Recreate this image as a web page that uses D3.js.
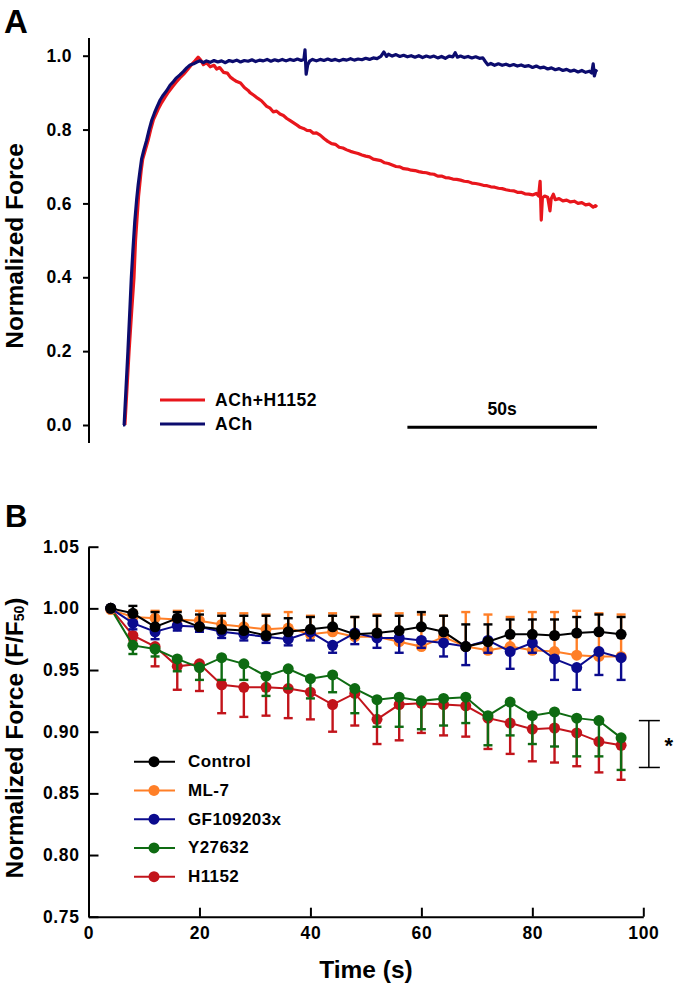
<!DOCTYPE html>
<html>
<head>
<meta charset="utf-8">
<script src="https://cdn.jsdelivr.net/npm/d3@7"></script>
<style>
  html, body { margin: 0; padding: 0; background: #fff; }
  svg { display: block; }
  text { font-family: "Liberation Sans", Arial, Helvetica, sans-serif; font-weight: bold; fill: #000; }
</style>
</head>
<body>
<svg id="chart" width="676" height="983"></svg>
<script>
// ---------------- DATA: panel A (force traces, time in s, normalized force) ----------------
const traceACh = [
  [0,0],[0.3,0.0],[0.8,0.1],[1.3,0.2],[1.8,0.31],[2.2,0.4],[2.6,0.47],[3.1,0.55],[3.6,0.61],[4.0,0.65],
  [4.5,0.69],[4.9,0.72],[5.5,0.745],[6.2,0.77],[6.9,0.80],[7.6,0.826],[8.3,0.845],[9.0,0.862],[9.8,0.88],
  [10.6,0.893],[11.5,0.905],[12.4,0.92],[13.3,0.93],[14.1,0.94],[15.0,0.948],[15.9,0.957],[16.8,0.967],
  [17.7,0.975],[18.6,0.978],[19.5,0.983],[20.3,0.986],[21.2,0.981],[22,0.986],[23,0.982],[24,0.987],
  [25,0.983],[26,0.986],[27,0.981],[28,0.987],[29,0.984],[30,0.988],[31,0.983],[32,0.987],[33,0.985],
  [34,0.989],[35,0.984],[36,0.988],[37,0.986],[38,0.99],[39,0.985],[40,0.989],[41,0.986],[42,0.99],
  [43,0.986],[44,0.99],[45,0.987],[46,0.991],[47,0.987],[47.7,0.99],[48,1.016],[48.3,0.95],[48.7,0.975],
  [49.2,0.985],[50,0.99],[51,0.986],[52,0.99],[53,0.987],[54,0.991],[55,0.987],[56,0.99],[57,0.986],
  [58,0.99],[59,0.988],[60,0.992],[61,0.988],[62,0.991],[63,0.989],[64,0.993],[65,0.99],[66,0.994],
  [67,0.992],[68,0.998],[68.8,1.01],[69.5,0.998],[70,1.004],[71,0.999],[72,1.003],[73,0.998],[74,1.001],
  [75,0.997],[76,1.0],[77,0.996],[78,1.0],[79,0.995],[80,0.999],[81,0.996],[82,0.999],[83,0.994],
  [84,0.998],[85,0.993],[86,0.999],[87,0.997],[87.6,1.008],[88.2,0.996],[89,0.999],[90,0.995],[91,0.998],
  [92,0.994],[93,0.997],[94,0.993],[94.9,0.994],[95.5,0.985],[96.2,0.975],[97,0.979],[98,0.974],[99,0.978],
  [100,0.974],[101,0.977],[102,0.973],[103,0.976],[104,0.972],[105,0.975],[106,0.971],[107,0.973],
  [108,0.968],[109,0.972],[110,0.967],[111,0.969],[112,0.964],[113,0.967],[114,0.962],[115,0.965],
  [116,0.96],[117,0.963],[118,0.958],[119,0.961],[120,0.956],[121,0.96],[122,0.955],[123,0.958],
  [123.6,0.953],[124,0.978],[124.3,0.945],[124.7,0.96],[125,0.956]
];
const traceAChH1152 = [
  [0.5,0],[1.0,0.09],[1.6,0.2],[2.3,0.31],[2.9,0.4],[3.3,0.5],[3.7,0.56],[4.1,0.62],[4.8,0.69],[5.2,0.72],
  [5.9,0.745],[6.6,0.77],[7.3,0.80],[8.0,0.826],[8.7,0.842],[9.4,0.858],[10.2,0.873],[11.1,0.888],[12,0.902],
  [13,0.915],[14,0.928],[15,0.94],[16,0.95],[17,0.962],[18,0.975],[19,0.986],[19.8,0.996],[20.5,0.988],
  [21.2,0.976],[22,0.981],[23,0.97],[24,0.974],[24.7,0.964],[25.5,0.968],[26.5,0.955],[27.5,0.953],
  [28.3,0.942],[29.1,0.936],[30,0.93],[31,0.926],[32,0.914],[33,0.906],[33.5,0.9],[34.5,0.893],[35.5,0.885],
  [36.5,0.878],[37.9,0.863],[38.8,0.858],[39.6,0.848],[40.5,0.85],[41.4,0.842],[42.3,0.838],[43.2,0.83],
  [44.1,0.824],[45,0.818],[45.9,0.812],[46.7,0.806],[47.6,0.803],[48.5,0.798],[49.4,0.797],[50.2,0.79],
  [51,0.791],[52,0.785],[53,0.776],[54,0.768],[55,0.762],[56,0.76],[57,0.752],[58,0.75],[59,0.745],
  [60,0.741],[61,0.738],[62,0.735],[63,0.731],[64,0.728],[65,0.726],[66,0.72],[67,0.718],[68,0.716],
  [69,0.71],[70,0.708],[71,0.704],[72,0.7],[73,0.699],[74,0.694],[75,0.693],[76,0.69],[77,0.689],[78,0.686],
  [79,0.684],[80,0.683],[81,0.68],[82,0.679],[83,0.674],[84,0.674],[85,0.67],[86,0.669],[87,0.666],
  [88,0.665],[89,0.663],[90,0.66],[91,0.659],[92,0.655],[93,0.654],[94,0.652],[95,0.649],[96,0.648],
  [97,0.645],[98,0.644],[99,0.641],[100,0.64],[101,0.637],[102,0.635],[103,0.634],[104,0.63],[105,0.63],
  [106,0.626],[107,0.625],[108,0.623],[109,0.627],[109.6,0.62],[110,0.66],[110.3,0.555],[110.6,0.615],
  [111.2,0.62],[112,0.617],[112.6,0.58],[112.9,0.612],[113.5,0.625],[114,0.61],[115,0.613],[116,0.607],
  [117,0.609],[118,0.604],[119,0.606],[120,0.6],[121,0.602],[122,0.596],[123,0.598],[124,0.59],
  [124.6,0.594],[125,0.59]
];
const yTicksA = [0, 0.2, 0.4, 0.6, 0.8, 1.0];
const legendA = ["ACh+H1152", "ACh"];
const scaleBarA = [75, 125];      // seconds
const scaleBarLabel = "50s";

// ---------------- DATA: panel B (mean ± error at each time point) ----------------
const timesB = [4,8,12,16,20,24,28,32,36,40,44,48,52,56,60,64,68,72,76,80,84,88,92,96];
const seriesNames = ["Control", "ML-7", "GF109203x", "Y27632", "H1152"];
const controlMean = [1.000,0.996,0.985,0.992,0.985,0.983,0.982,0.978,0.981,0.983,0.985,0.979,0.980,0.982,0.985,0.981,0.969,0.973,0.979,0.979,0.978,0.980,0.981,0.979];
const controlErr  = [0.000,0.006,0.012,0.005,0.010,0.011,0.012,0.016,0.011,0.010,0.009,0.014,0.014,0.012,0.012,0.013,0.018,0.014,0.012,0.012,0.013,0.013,0.014,0.014];
const ml7Mean     = [0.999,0.993,0.992,0.991,0.990,0.987,0.985,0.983,0.984,0.979,0.981,0.977,0.977,0.973,0.969,0.977,0.969,0.966,0.969,0.966,0.965,0.962,0.961,0.961];
const ml7Err      = [0.000,0.005,0.006,0.007,0.008,0.009,0.011,0.012,0.013,0.015,0.015,0.016,0.018,0.023,0.026,0.017,0.028,0.029,0.024,0.031,0.032,0.036,0.035,0.034];
const gfMean      = [1.000,0.988,0.981,0.986,0.985,0.981,0.979,0.977,0.975,0.981,0.970,0.980,0.976,0.976,0.974,0.972,0.969,0.974,0.965,0.972,0.959,0.952,0.965,0.960];
const gfErr       = [0.000,0.005,0.006,0.004,0.004,0.005,0.005,0.005,0.005,0.007,0.006,0.009,0.008,0.012,0.006,0.011,0.015,0.010,0.014,0.008,0.017,0.018,0.019,0.018];
const yMean       = [1.000,0.970,0.967,0.959,0.952,0.960,0.955,0.945,0.951,0.943,0.946,0.935,0.926,0.928,0.925,0.927,0.928,0.913,0.924,0.913,0.916,0.911,0.909,0.895];
const yErr        = [0.000,0.007,0.006,0.010,0.010,0.018,0.013,0.016,0.016,0.016,0.014,0.020,0.022,0.024,0.023,0.022,0.021,0.024,0.027,0.023,0.028,0.031,0.029,0.026];
const hMean       = [1.000,0.978,0.969,0.953,0.955,0.938,0.936,0.936,0.935,0.932,0.922,0.931,0.910,0.922,0.923,0.922,0.921,0.911,0.907,0.902,0.903,0.899,0.892,0.889];
const hErr        = [0.000,0.004,0.016,0.019,0.022,0.023,0.024,0.023,0.024,0.022,0.022,0.026,0.020,0.029,0.024,0.025,0.025,0.025,0.025,0.026,0.028,0.027,0.025,0.028];
const errDirection = [1, 1, -1, -1, -1];   // +1 = bar drawn upward, -1 = downward
const xTicksB = [0, 20, 40, 60, 80, 100];
const yTicksB = [0.75, 0.80, 0.85, 0.90, 0.95, 1.00, 1.05];
const sigBracket = { t: 101, lo: 0.871, hi: 0.909, label: "*" };

// ---------------- STYLE ----------------
const colorsA = ["#e8161c", "#0c0c6e"];
const colorsB = ["#000000", "#ff7f27", "#0b0b8e", "#0e6b12", "#c2141b"];

const svg = d3.select("#chart");

// =============== PANEL A ===============
const xA = d3.scaleLinear().domain([0, 125]).range([123, 597]);
const yA = d3.scaleLinear().domain([0, 1]).range([425, 55.7]);
const gA = svg.append("g");

gA.append("text").attr("x", 4).attr("y", 33).style("font-size", "33px").text("A");

// axis
const axA = d3.axisLeft(yA).tickValues(yTicksA).tickFormat(d3.format(".1f"))
  .tickSizeInner(6).tickSizeOuter(0).tickPadding(11);
const gAxA = gA.append("g").attr("transform", "translate(89,0)").call(axA);
gAxA.select(".domain").remove();
gAxA.append("line").attr("x1", 0).attr("x2", 0)
  .attr("y1", yA(1.048)).attr("y2", yA(-0.049))
  .attr("stroke", "#000").attr("stroke-width", 2);
gAxA.selectAll(".tick line").attr("stroke-width", 2);
gAxA.selectAll(".tick text").style("font-size", "17.5px").style("letter-spacing", "0.4px").attr("fill", "#000");

gA.append("text")
  .attr("transform", "translate(14,246) rotate(-90)")
  .attr("text-anchor", "middle").attr("dominant-baseline", "central")
  .style("font-size", "24.5px").text("Normalized Force");

const lineA = d3.line().x(d => xA(d[0])).y(d => yA(d[1]));
gA.append("path").datum(traceAChH1152).attr("d", lineA)
  .attr("fill", "none").attr("stroke", colorsA[0]).attr("stroke-width", 3.2)
  .attr("stroke-linejoin", "round");
gA.append("path").datum(traceACh).attr("d", lineA)
  .attr("fill", "none").attr("stroke", colorsA[1]).attr("stroke-width", 3.2)
  .attr("stroke-linejoin", "round");

// legend A
legendA.forEach((name, i) => {
  const y = 400 + i * 24;
  gA.append("line").attr("x1", 160).attr("x2", 205).attr("y1", y).attr("y2", y)
    .attr("stroke", colorsA[i]).attr("stroke-width", 3);
  gA.append("text").attr("x", 215).attr("y", y).attr("dominant-baseline", "central")
    .style("font-size", "17.5px").style("letter-spacing", "0.6px").text(name);
});

// scale bar
gA.append("line").attr("x1", xA(scaleBarA[0])).attr("x2", xA(scaleBarA[1]))
  .attr("y1", yA(-0.006)).attr("y2", yA(-0.006))
  .attr("stroke", "#000").attr("stroke-width", 3);
gA.append("text").attr("x", (xA(scaleBarA[0]) + xA(scaleBarA[1])) / 2).attr("y", 409)
  .attr("text-anchor", "middle").attr("dominant-baseline", "central")
  .style("font-size", "17.5px").text(scaleBarLabel);

// =============== PANEL B ===============
const xB = d3.scaleLinear().domain([0, 100]).range([88.5, 643.3]);
const yB = d3.scaleLinear().domain([0.75, 1.05]).range([916.7, 546.7]);
const gB = svg.append("g");

gB.append("text").attr("x", 5).attr("y", 527).style("font-size", "31px").text("B");

const axYB = d3.axisLeft(yB).tickValues(yTicksB).tickFormat(d3.format(".2f"))
  .tickSizeInner(-10).tickSizeOuter(0).tickPadding(9);
const gYB = gB.append("g").attr("transform", `translate(${xB(0)},0)`).call(axYB);
const axXB = d3.axisBottom(xB).tickValues(xTicksB).tickFormat(d3.format("d"))
  .tickSizeInner(-9).tickSizeOuter(0).tickPadding(10);
const gXB = gB.append("g").attr("transform", `translate(0,${yB(0.75)})`).call(axXB);
[gYB, gXB].forEach(g => {
  g.select(".domain").attr("stroke-width", 2);
  g.selectAll(".tick line").attr("stroke-width", 2);
  g.selectAll(".tick text").style("font-size", "17.5px").style("letter-spacing", "0.6px").attr("fill", "#000");
});

// axis titles
const yTitleB = gB.append("text")
  .attr("transform", "translate(14,738) rotate(-90)")
  .attr("text-anchor", "middle").attr("dominant-baseline", "central")
  .style("font-size", "24.5px");
yTitleB.append("tspan").text("Normalized Force (F/F");
yTitleB.append("tspan").attr("baseline-shift", "-35%").style("font-size", "14px").text("50");
yTitleB.append("tspan").text(")");

gB.append("text").attr("x", 366).attr("y", 978).attr("text-anchor", "middle")
  .style("font-size", "24.5px").text("Time (s)");

// series
const means = [controlMean, ml7Mean, gfMean, yMean, hMean];
const errs = [controlErr, ml7Err, gfErr, yErr, hErr];
const series = seriesNames.map((name, i) => ({
  name, color: colorsB[i], dir: errDirection[i],
  values: timesB.map((t, j) => ({ t, m: means[i][j], e: errs[i][j] }))
}));
const drawOrder = [4, 3, 1, 2, 0];
const lineB = d3.line().x(d => xB(d.t)).y(d => yB(d.m));
const capHalf = 4.5;

drawOrder.forEach(i => {
  const s = series[i];
  const g = gB.append("g");
  // error bars
  s.values.filter(d => d.e > 0).forEach(d => {
    const x = xB(d.t), y0 = yB(d.m), y1 = yB(d.m + s.dir * d.e);
    g.append("line").attr("x1", x).attr("x2", x).attr("y1", y0).attr("y2", y1)
      .attr("stroke", s.color).attr("stroke-width", 2.4);
    g.append("line").attr("x1", x - capHalf).attr("x2", x + capHalf).attr("y1", y1).attr("y2", y1)
      .attr("stroke", s.color).attr("stroke-width", 2.4);
  });
  g.append("path").datum(s.values).attr("d", lineB)
    .attr("fill", "none").attr("stroke", s.color).attr("stroke-width", 2);
  g.selectAll("circle").data(s.values).join("circle")
    .attr("cx", d => xB(d.t)).attr("cy", d => yB(d.m)).attr("r", 5.5)
    .attr("fill", s.color);
});

// significance bracket
const bx = xB(sigBracket.t);
const bTop = yB(sigBracket.hi), bBot = yB(sigBracket.lo);
gB.append("line").attr("x1", bx).attr("x2", bx).attr("y1", bTop).attr("y2", bBot)
  .attr("stroke", "#000").attr("stroke-width", 1.5);
[bTop, bBot].forEach(y => gB.append("line").attr("x1", bx - 10).attr("x2", bx + 11)
  .attr("y1", y).attr("y2", y).attr("stroke", "#000").attr("stroke-width", 1.5));
gB.append("text").attr("x", bx + 20).attr("y", (bTop + bBot) / 2 + 9)
  .attr("text-anchor", "middle").style("font-size", "22px").text(sigBracket.label);

// legend B
seriesNames.forEach((name, i) => {
  const y = 761.7 + i * 28.75;
  const g = gB.append("g");
  g.append("line").attr("x1", 134).attr("x2", 175).attr("y1", y).attr("y2", y)
    .attr("stroke", colorsB[i]).attr("stroke-width", 2);
  g.append("circle").attr("cx", 154).attr("cy", y).attr("r", 5.5).attr("fill", colorsB[i]);
  g.append("text").attr("x", 188).attr("y", y).attr("dominant-baseline", "central")
    .style("font-size", "17px").style("letter-spacing", "0.4px").text(name);
});
</script>
</body>
</html>
